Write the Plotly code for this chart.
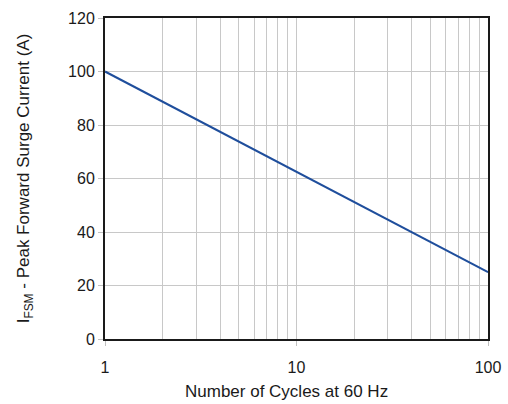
import plotly.graph_objects as go

# Data
cycles = [1, 100]
surge_current = [100, 25]
x_tick_vals = [1, 10, 100]
x_tick_text = ["1", "10", "100"]
x_minor_vals = [2, 3, 4, 5, 6, 7, 8, 9, 20, 30, 40, 50, 60, 70, 80, 90]
y_tick_vals = [0, 20, 40, 60, 80, 100, 120]

fig = go.Figure()
fig.add_trace(go.Scatter(
    x=cycles, y=surge_current, mode="lines",
    line=dict(color="#1f4e9c", width=2), showlegend=False,
))

FAM = "Liberation Sans, Arial, sans-serif"
TXT = "#1a1a1a"

fig.update_layout(
    width=508, height=404,
    margin=dict(l=105, r=20, t=18, b=65),
    paper_bgcolor="white", plot_bgcolor="white",
    font=dict(family=FAM, size=16, color=TXT),
    xaxis=dict(
        type="log", range=[0, 2], automargin=False,
        tickmode="array", tickvals=x_tick_vals, ticktext=x_tick_text,
        tickfont=dict(family=FAM, size=16, color=TXT),
        ticklabelstandoff=8,
        showgrid=True, gridcolor="#c8c8c8", gridwidth=1,
        minor=dict(tickmode="array", tickvals=x_minor_vals, showgrid=True,
                   gridcolor="#c8c8c8", gridwidth=1, ticks=""),
        ticks="outside", ticklen=5, tickcolor="#c0c0c0", tickwidth=1,
        showline=True, linecolor="#1a1a1a", linewidth=2, mirror=True,
        zeroline=False,
    ),
    yaxis=dict(
        range=[0, 120], tickvals=y_tick_vals, automargin=False,
        tickfont=dict(family=FAM, size=16, color=TXT),
        showgrid=True, gridcolor="#c8c8c8", gridwidth=1,
        ticks="outside", ticklen=5, tickcolor="#c0c0c0", tickwidth=1,
        showline=True, linecolor="#1a1a1a", linewidth=2, mirror=True,
        zeroline=False,
        title=dict(text="I<sub>FSM</sub> - Peak Forward Surge Current (A)",
                   font=dict(family=FAM, size=17, color=TXT), standoff=34),
    ),
    annotations=[dict(
        text="Number of Cycles at 60 Hz", xref="paper", yref="paper",
        x=0.475, y=0, yshift=-52, xanchor="center", yanchor="middle",
        showarrow=False, font=dict(family=FAM, size=17, color=TXT),
    )],
)

fig.write_html("out.html", config={"displayModeBar": False},
               post_script="document.body.style.margin='0';document.body.style.padding='0';")
